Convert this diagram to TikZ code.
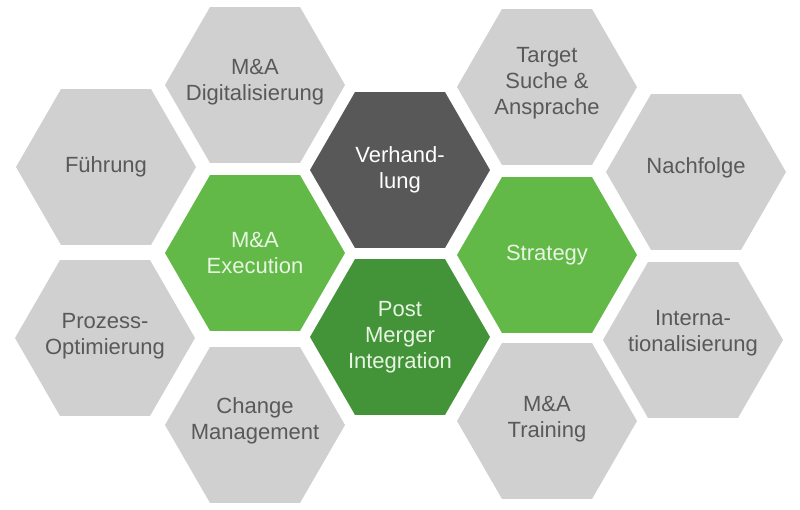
\documentclass[tikz,border=0pt]{standalone}
\usepackage{fontspec}
\setmainfont{Liberation Sans}
\usetikzlibrary{shapes.geometric}
\definecolor{hexgray}{RGB}{208,208,208}
\definecolor{hexdark}{RGB}{88,88,88}
\definecolor{hexgreen}{RGB}{98,185,72}
\definecolor{hexdeep}{RGB}{67,147,56}
\definecolor{txtgray}{RGB}{89,89,89}
\definecolor{txtlight}{RGB}{232,245,226}

\begin{document}
\begin{tikzpicture}[x=0.75pt,y=0.75pt,yscale=-1,xscale=1,
	hexa/.style={regular polygon,regular polygon sides=6,minimum size=135pt,inner sep=0pt},
	grayhex/.style={hexa,fill=hexgray},
	darkhex/.style={hexa,fill=hexdark},
	greenhex/.style={hexa,fill=hexgreen},
	deephex/.style={hexa,fill=hexdeep},
	hextext/.style={align=center,inner sep=0pt,font=\fontsize{16.5}{19.5}\selectfont},
	graytext/.style={hextext,text=txtgray},
	lighttext/.style={hextext,text=txtlight}]
			\useasboundingbox (0,0) rectangle (800,510);
			
			%Outer ring
			\node [grayhex,label={[graytext]center:Führung}] (fuehrung) at (106,167) {};
			\node [grayhex,label={[graytext,yshift=1pt]center:Prozess-\\Optimierung}] (prozess) at (105,338) {};
			\node [grayhex,label={[graytext,yshift=2pt]center:M\&A\\Digitalisierung}] (digital) at (255,85) {};
			\node [grayhex,label={[graytext,yshift=3.5pt]center:Change\\Management}] (change) at (255,425) {};
			\node [grayhex,label={[graytext,yshift=2.5pt]center:Target\\Suche \&\\Ansprache}] (target) at (547,87) {};
			\node [grayhex,label={[graytext,yshift=1.5pt]center:M\&A\\Training}] (training) at (547,421) {};
			\node [grayhex,label={[graytext,yshift=3pt]center:Nachfolge}] (nachfolge) at (696,172) {};
			\node [grayhex,label={[graytext,yshift=5pt]center:Interna-\\tionalisierung}] (intern) at (693,340) {};
			
			%Inner ring
			\node [darkhex,label={[hextext,text=white]center:Verhand-\\lung}] (verhandlung) at (400,170) {};
			\node [greenhex,label={[lighttext]center:M\&A\\Execution}] (execution) at (255,253) {};
			\node [greenhex,label={[lighttext]center:Strategy}] (strategy) at (547,255) {};
			\node [deephex,label={[lighttext]center:Post\\Merger\\Integration}] (pmi) at (400,337) {};
			
		\end{tikzpicture}
\end{document}
